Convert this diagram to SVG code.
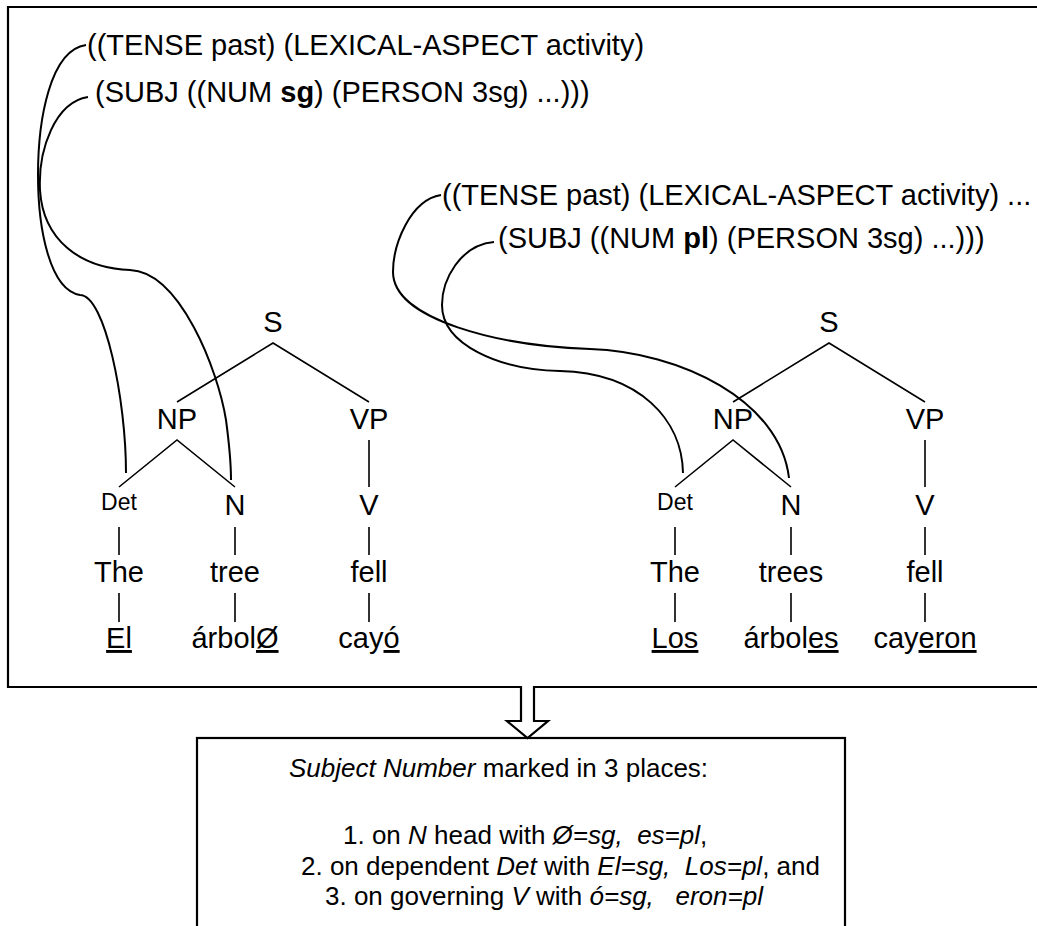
<svg xmlns="http://www.w3.org/2000/svg" width="1037" height="926" viewBox="0 0 1037 926">
  <style>
    text { font-family: "Liberation Sans", Arial, sans-serif; fill: #000; }
    .lbl { font-size: 29px; text-anchor: middle; }
    .det { font-size: 23px; text-anchor: middle; }
    .feat { font-size: 29px; }
    .note { font-size: 26px; }
    .u { text-decoration: underline; }
    .i { font-style: italic; }
    .b { font-weight: bold; }
    .edge { stroke: #000; stroke-width: 1.6; fill: none; }
    .link { stroke: #000; stroke-width: 2; fill: none; }
    .frame { stroke: #000; stroke-width: 2.2; fill: none; }
  </style>
  <rect width="1037" height="926" fill="#fff"/>

  <!-- outer frame, open on the right, with the hollow arrow cut out of its base -->
  <path id="frame" class="frame" d="M 1040 7 H 8 V 687 H 521 V 721 H 507 L 527.5 738 L 548 721 H 534 V 687 H 1040"/>

  <!-- summary box -->
  <g id="summary">
    <rect class="frame" x="197" y="738" width="648" height="300" fill="#fff"/>
    <text class="note" x="289" y="777" xml:space="preserve"><tspan class="i">Subject Number</tspan> marked in 3 places:</text>
    <text class="note" x="343" y="844" xml:space="preserve">1. on <tspan class="i">N</tspan> head with <tspan class="i">Ø=sg,</tspan>  <tspan class="i">es=pl</tspan>,</text>
    <text class="note" x="301" y="875" xml:space="preserve">2. on dependent <tspan class="i">Det</tspan> with <tspan class="i">El=sg,</tspan>  <tspan class="i">Los=pl</tspan>, and</text>
    <text class="note" x="325" y="905" xml:space="preserve">3. on governing <tspan class="i">V</tspan> with <tspan class="i">ó=sg,</tspan>   <tspan class="i">eron=pl</tspan></text>
  </g>

  <!-- feature structures -->
  <g id="fs-sg">
    <text class="feat" x="87" y="55">((TENSE past) (LEXICAL-ASPECT activity)</text>
    <text class="feat" x="95" y="102">(SUBJ ((NUM <tspan class="b">sg</tspan>) (PERSON 3sg) ...)))</text>
  </g>
  <g id="fs-pl">
    <text class="feat" x="442" y="205">((TENSE past) (LEXICAL-ASPECT activity) ...</text>
    <text class="feat" x="498" y="248">(SUBJ ((NUM <tspan class="b">pl</tspan>) (PERSON 3sg) ...)))</text>
  </g>

  <!-- connectors: tree branches and feature links -->
  <g id="connectors">
    <!-- singular tree -->
    <path class="edge" d="M 177 402 L 273 343 L 369 402"/>
    <path class="edge" d="M 119 487 L 177 440 L 235 487"/>
    <path class="edge" d="M 369 440 V 487"/>
    <path class="edge" d="M 119 527 V 555 M 235 527 V 555 M 369 527 V 555"/>
    <path class="edge" d="M 119 593 V 622 M 235 593 V 622 M 369 593 V 622"/>
    <!-- plural tree -->
    <path class="edge" d="M 733 402 L 829 343 L 925 402"/>
    <path class="edge" d="M 675 487 L 733 440 L 791 487"/>
    <path class="edge" d="M 925 440 V 487"/>
    <path class="edge" d="M 675 527 V 555 M 791 527 V 555 M 925 527 V 555"/>
    <path class="edge" d="M 675 593 V 622 M 791 593 V 622 M 925 593 V 622"/>
    <!-- feature links, singular -->
    <path class="link" d="M 86 45 C 50 50, 38 120, 38 175 C 38 230, 50 290, 80 295 C 105 295, 126 400, 126 473"/>
    <path class="link" d="M 88 97 C 55 102, 38 150, 40 190 C 43 240, 80 268, 130 270 C 180 272, 218 370, 226 420 C 230 450, 231 470, 231 480"/>
    <!-- feature links, plural -->
    <path class="link" d="M 441 195 C 410 200, 393 245, 393 272 C 393 320, 500 346, 590 349 C 680 352, 780 400, 789 478"/>
    <path class="link" d="M 494 242 C 460 245, 442 280, 442 305 C 442 345, 500 370, 560 371 C 640 373, 682 420, 683 473"/>
  </g>

  <!-- singular tree nodes -->
  <g id="s-sg"><text class="lbl" x="273" y="332">S</text></g>
  <g id="np-sg"><text class="lbl" x="177" y="429">NP</text></g>
  <g id="vp-sg"><text class="lbl" x="369" y="429">VP</text></g>
  <g id="det-sg"><text class="det" x="119" y="510">Det</text></g>
  <g id="n-sg"><text class="lbl" x="235" y="515">N</text></g>
  <g id="v-sg"><text class="lbl" x="369" y="515">V</text></g>
  <g id="the-sg"><text class="lbl" x="119" y="582">The</text></g>
  <g id="tree-sg"><text class="lbl" x="235" y="582">tree</text></g>
  <g id="fell-sg"><text class="lbl" x="369" y="582">fell</text></g>
  <g id="el"><text class="lbl" x="119" y="648"><tspan class="u">El</tspan></text></g>
  <g id="arbol"><text class="lbl" x="235" y="648">árbol<tspan class="u">Ø</tspan></text></g>
  <g id="cayo"><text class="lbl" x="369" y="648">cay<tspan class="u">ó</tspan></text></g>

  <!-- plural tree nodes -->
  <g id="s-pl"><text class="lbl" x="829" y="332">S</text></g>
  <g id="np-pl"><text class="lbl" x="733" y="429">NP</text></g>
  <g id="vp-pl"><text class="lbl" x="925" y="429">VP</text></g>
  <g id="det-pl"><text class="det" x="675" y="510">Det</text></g>
  <g id="n-pl"><text class="lbl" x="791" y="515">N</text></g>
  <g id="v-pl"><text class="lbl" x="925" y="515">V</text></g>
  <g id="the-pl"><text class="lbl" x="675" y="582">The</text></g>
  <g id="trees-pl"><text class="lbl" x="791" y="582">trees</text></g>
  <g id="fell-pl"><text class="lbl" x="925" y="582">fell</text></g>
  <g id="los"><text class="lbl" x="675" y="648"><tspan class="u">Los</tspan></text></g>
  <g id="arboles"><text class="lbl" x="791" y="648">árbol<tspan class="u">es</tspan></text></g>
  <g id="cayeron"><text class="lbl" x="925" y="648">cay<tspan class="u">eron</tspan></text></g>
</svg>
